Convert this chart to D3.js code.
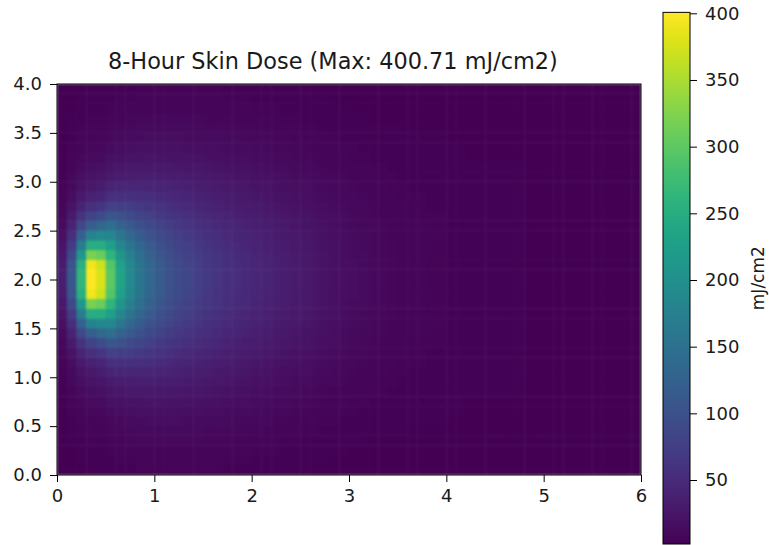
<!DOCTYPE html>
<html>
<head>
<meta charset="utf-8">
<script src="https://cdn.jsdelivr.net/npm/d3@7"></script>
<style>
  body { margin: 0; background: #fff; }
  text { font-family: "DejaVu Sans", sans-serif; fill: #1a1a1a; }
</style>
</head>
<body>
<div id="chart"></div>
<script>
// grid: 60 columns of 0.1 along x (0..6), 40 rows of 0.1 along y (0..4)
const xDomain = [0, 6];
const yDomain = [0, 4];
const cellStep = 0.1;
const xTicks = [0, 1, 2, 3, 4, 5, 6];
const yTicks = [0, 0.5, 1, 1.5, 2, 2.5, 3, 3.5, 4];
const cbTicks = [50, 100, 150, 200, 250, 300, 350, 400];
const doseMax = 400.71;
const doseMin = 2;
const titleText = "8-Hour Skin Dose (Max: 400.71 mJ/cm2)";
const cbLabel = "mJ/cm2";

// dose rows, from the centre line (y 2.0-2.1) upwards to y 4.0;
// the lower half (y 0-2.0) is the mirror image of these rows
const upperRows = [
  [35,110,265,400,378,300,235,190,158,135, 117,103,92,83,75,68,62,57,52,48, 44,41,37,34,31,28,25,22,19,17, 15,13,11,10,9,8,7,7,6,6, 5,5,4,4,4,4,4,4,3,3, 3,3,3,3,3,3,3,3,3,3],
  [33,105,255,392,370,292,230,186,155,132, 115,101,91,82,74,67,61,56,51,47, 44,40,37,34,31,28,25,22,19,17, 15,13,11,10,9,8,7,7,6,6, 5,5,4,4,4,4,4,4,3,3, 3,3,3,3,3,3,3,3,3,3],
  [28,90,215,320,310,262,210,172,145,125, 109,96,87,79,71,65,59,54,50,46, 42,39,36,33,30,27,24,21,19,16, 14,13,11,10,9,8,7,7,6,6, 5,5,4,4,4,4,4,4,3,3, 3,3,3,3,3,3,3,3,3,3],
  [23,72,170,250,250,225,185,155,132,115, 101,90,81,74,67,61,56,51,47,43, 40,37,34,31,28,26,23,20,18,16, 14,12,11,10,9,8,7,7,6,6, 5,5,4,4,4,4,4,4,3,3, 3,3,3,3,3,3,3,3,3,3],
  [18,54,125,180,190,185,158,135,117,103, 92,82,75,68,62,57,52,48,44,41, 38,35,32,29,27,24,22,19,17,15, 13,12,10,9,8,8,7,7,6,6, 5,5,4,4,4,4,4,4,3,3, 3,3,3,3,3,3,3,3,3,3],
  [14,40,88,120,135,145,128,113,100,90, 81,73,67,62,57,52,48,44,41,38, 35,32,30,27,25,22,20,18,16,14, 12,11,10,9,8,7,7,7,6,6, 5,5,4,4,4,4,4,4,3,3, 3,3,3,3,3,3,3,3,3,3],
  [11,29,60,80,92,108,100,92,84,77, 70,64,59,55,51,47,44,40,37,34, 32,29,27,25,23,21,19,17,15,13, 12,10,9,8,8,7,6,6,6,6, 5,5,4,4,4,4,4,4,3,3, 3,3,3,3,3,3,3,3,3,3],
  [9,21,42,55,63,78,76,73,68,64, 60,55,51,48,45,42,39,36,33,31, 29,26,24,22,20,19,17,15,13,12, 11,10,9,8,7,7,6,6,5,5, 5,5,4,4,4,4,4,4,3,3, 3,3,3,3,3,3,3,3,3,3],
  [7,16,30,38,44,56,57,57,55,53, 50,47,44,42,39,37,34,32,29,27, 25,23,22,20,18,17,15,14,12,11, 10,9,8,7,7,6,6,6,5,5, 5,5,4,4,4,4,4,4,3,3, 3,3,3,3,3,3,3,3,3,3],
  [6,12,22,28,32,41,43,44,44,43, 42,40,38,36,34,32,30,28,26,24, 22,21,19,17,16,15,13,12,11,10, 9,8,7,7,6,6,5,5,5,5, 4,4,4,4,4,4,4,4,3,3, 3,3,3,3,3,3,3,3,3,3],
  [5,10,17,21,24,30,33,34,35,35, 34,33,32,30,29,27,26,24,22,21, 19,18,17,15,14,13,12,11,10,9, 8,7,7,6,6,5,5,5,5,5, 4,4,4,4,4,4,4,4,3,3, 3,3,3,3,3,3,3,3,3,3],
  [4,8,13,16,18,23,25,27,28,28, 28,27,26,25,24,23,22,20,19,18, 17,15,14,13,12,11,10,9,8,8, 7,7,6,6,5,5,5,5,4,4, 4,4,4,4,4,4,4,4,3,3, 3,3,3,3,3,3,3,3,3,3],
  [4,7,10,13,14,18,19,21,22,23, 23,22,22,21,20,19,18,17,16,15, 14,13,12,12,11,10,9,8,7,7, 6,6,5,5,5,5,4,4,4,4, 4,4,3,3,3,3,3,3,3,3, 3,3,3,3,3,3,3,3,3,3],
  [3,6,8,10,11,14,15,17,18,19, 19,18,18,17,17,16,15,14,14,13, 12,11,11,10,9,9,8,7,7,6, 6,5,5,5,4,4,4,4,4,4, 4,4,3,3,3,3,3,3,3,3, 3,3,3,3,3,3,3,3,3,3],
  [3,5,7,8,9,11,12,13,14,15, 15,15,15,14,14,13,13,12,12,11, 10,10,9,9,8,7,7,6,6,5, 5,5,4,4,4,4,4,4,4,4, 3,3,3,3,3,3,3,3,3,3, 3,3,3,3,3,3,3,3,3,3],
  [3,4,6,7,7,9,10,11,12,12, 12,12,12,12,12,11,11,10,10,9, 9,8,8,7,7,6,6,5,5,5, 4,4,4,4,4,4,3,3,3,3, 3,3,3,3,3,3,3,3,3,3, 3,3,3,3,3,3,3,3,3,3],
  [3,4,5,6,6,7,8,9,10,10, 10,10,10,10,10,9,9,9,8,8, 7,7,7,6,6,5,5,5,4,4, 4,4,3,3,3,3,3,3,3,3, 3,3,3,3,3,3,3,3,3,3, 3,3,3,3,3,3,2,2,2,2],
  [3,3,4,5,5,6,7,7,8,8, 8,8,8,8,8,8,8,7,7,7, 6,6,6,5,5,5,4,4,4,4, 3,3,3,3,3,3,3,3,3,3, 3,3,3,3,3,3,3,3,3,3, 3,3,3,3,3,3,2,2,2,2],
  [3,3,4,4,4,5,6,6,7,7, 7,7,7,7,7,7,7,6,6,6, 5,5,5,5,4,4,4,4,3,3, 3,3,3,3,3,3,3,3,3,3, 3,3,3,3,3,3,3,3,3,3, 3,3,3,3,3,3,2,2,2,2],
  [3,3,3,4,4,4,5,5,6,6, 6,6,6,6,6,6,6,5,5,5, 5,5,4,4,4,4,3,3,3,3, 3,3,3,3,3,3,3,3,3,3, 3,3,3,3,3,3,3,3,3,3, 3,3,3,3,3,3,2,2,2,2]
];

// rows from y=0 up to y=4
const doseRows = upperRows.slice().reverse().concat(upperRows);

const cells = [];
doseRows.forEach((row, j) => {
  row.forEach((v, i) => {
    cells.push({x0: i * cellStep, y0: j * cellStep, value: v});
  });
});

const width = 769;
const height = 545;
const margin = {top: 84, right: 128, bottom: 70, left: 57};

const svg = d3.select('#chart')
  .append('svg')
  .attr('width', width)
  .attr('height', height);

const x = d3.scaleLinear()
  .domain(xDomain)
  .range([margin.left, width - margin.right]);

const y = d3.scaleLinear()
  .domain(yDomain)
  .range([height - margin.bottom, margin.top]);

const color = d3.scaleSequential(d3.interpolateViridis)
  .domain([doseMin, doseMax]);

// soft edges like the resampled image
const defs = svg.append('defs');
defs.append('filter')
  .attr('id', 'soft')
  .attr('filterUnits', 'userSpaceOnUse')
  .attr('color-interpolation-filters', 'sRGB')
  .attr('x', x(0)).attr('y', y(4))
  .attr('width', x(6) - x(0)).attr('height', y(0) - y(4))
  .append('feGaussianBlur')
  .attr('stdDeviation', 0.9)
  .attr('edgeMode', 'duplicate');

// heatmap cells
svg.append('g')
  .attr('filter', 'url(#soft)')
  .selectAll('rect')
  .data(cells)
  .join('rect')
    .attr('x', d => x(d.x0))
    .attr('y', d => Math.max(y(d.y0 + cellStep) - 0.5, y(4)))
    .attr('width', d => Math.min(x(d.x0 + cellStep) + 0.5, x(6)) - x(d.x0))
    .attr('height', d => y(d.y0) - Math.max(y(d.y0 + cellStep) - 0.5, y(4)))
    .attr('fill', d => color(d.value));

// frame
svg.append('rect')
  .attr('x', x(0))
  .attr('y', y(4))
  .attr('width', x(6) - x(0))
  .attr('height', y(0) - y(4))
  .attr('fill', 'none')
  .attr('stroke', '#000')
  .attr('stroke-width', 1);

function xAxis(g) {
  g.attr('transform', `translate(0,${y(0)})`)
    .call(d3.axisBottom(x).tickValues(xTicks).tickFormat(d3.format('d')).tickSize(7).tickPadding(7))
    .call(g => g.select('.domain').remove())
    .attr('font-size', '18px')
    .attr('font-family', 'DejaVu Sans');
}

function yAxis(g) {
  g.attr('transform', `translate(${x(0)},0)`)
    .call(d3.axisLeft(y).tickValues(yTicks).tickFormat(d3.format('.1f')).tickSize(7).tickPadding(8))
    .call(g => g.select('.domain').remove())
    .attr('font-size', '18px')
    .attr('font-family', 'DejaVu Sans');
}

svg.append('g').call(xAxis);
svg.append('g').call(yAxis);

svg.append('text')
  .attr('x', 108)
  .attr('y', 69)
  .attr('font-size', '22.4px')
  .text(titleText);

// colorbar
const cbX = 663;
const cbW = 27;
const cb = d3.scaleLinear()
  .domain([50, 400])
  .range([480, 13.3]);

const grad = defs.append('linearGradient')
  .attr('id', 'cbgrad')
  .attr('x1', 0).attr('y1', 1).attr('x2', 0).attr('y2', 0);
d3.range(0, 1.0001, 0.05).forEach(t => {
  grad.append('stop')
    .attr('offset', t)
    .attr('stop-color', d3.interpolateViridis(t));
});

svg.append('rect')
  .attr('x', cbX)
  .attr('y', cb(doseMax))
  .attr('width', cbW)
  .attr('height', cb(doseMin) - cb(doseMax))
  .attr('fill', 'url(#cbgrad)')
  .attr('stroke', '#000')
  .attr('stroke-width', 1);

svg.append('g')
  .attr('transform', `translate(${cbX + cbW},0)`)
  .call(d3.axisRight(cb).tickValues(cbTicks).tickFormat(d3.format('d')).tickSize(7).tickPadding(8))
  .call(g => g.select('.domain').remove())
  .attr('font-size', '18px')
  .attr('font-family', 'DejaVu Sans');

svg.append('text')
  .attr('transform', `translate(764,${(cb(doseMax) + cb(doseMin)) / 2}) rotate(-90)`)
  .attr('text-anchor', 'middle')
  .attr('font-size', '17px')
  .text(cbLabel);
</script>
</body>
</html>
